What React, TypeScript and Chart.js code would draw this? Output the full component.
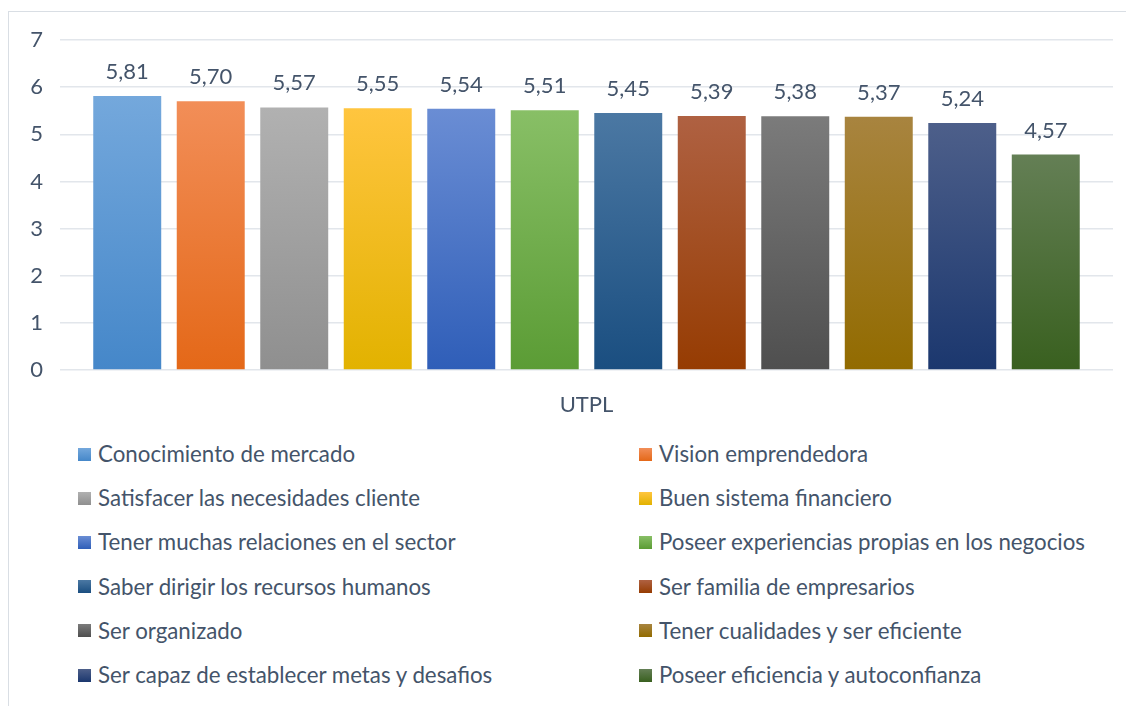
import React, { useEffect, useRef } from 'react';
import { Chart, registerables } from 'chart.js';

Chart.register(...registerables);

const categories = ['UTPL'];
const seriesNames = [
  'Conocimiento de mercado',
  'Vision emprendedora',
  'Satisfacer las necesidades cliente',
  'Buen sistema financiero',
  'Tener muchas relaciones en el sector',
  'Poseer experiencias propias en los negocios',
  'Saber dirigir los recursos humanos',
  'Ser familia de empresarios',
  'Ser organizado',
  'Tener cualidades y ser eficiente',
  'Ser capaz de establecer metas y desafios',
  'Poseer eficiencia y autoconfianza',
];
const seriesValues = [5.81, 5.7, 5.57, 5.55, 5.54, 5.51, 5.45, 5.39, 5.38, 5.37, 5.24, 4.57];
const yTickValues = [0, 1, 2, 3, 4, 5, 6, 7];

const topColors = [
  '#74A8DC', '#F28E58', '#B1B1B1', '#FFC53F', '#6A8DD4', '#88BF66',
  '#4B78A3', '#AF6142', '#7B7B7B', '#A8843F', '#4D5F8A', '#647F55',
];
const bottomColors = [
  '#4587C9', '#E46818', '#8F8F8F', '#E2B200', '#2F5EB8', '#5B9C35',
  '#1A4E80', '#963C02', '#4F4F4F', '#926B00', '#1B376E', '#39601F',
];

const TEXT = '#44546A';
const FONT = 'Lato, "Open Sans", sans-serif';

const fmt = (v: number) => v.toFixed(2).replace('.', ',');

const valueLabels = {
  id: 'valueLabels',
  afterDatasetsDraw(chart: any) {
    const ctx = chart.ctx;
    ctx.save();
    ctx.fillStyle = TEXT;
    ctx.font = `22px ${FONT}`;
    ctx.textAlign = 'center';
    ctx.textBaseline = 'alphabetic';
    chart.data.datasets.forEach((ds: any, i: number) => {
      const meta = chart.getDatasetMeta(i);
      meta.data.forEach((el: any, j: number) => {
        ctx.fillText(fmt(ds.data[j]), el.x, el.y - 17);
      });
    });
    ctx.restore();
  },
};

export default function App() {
  const canvasRef = useRef<HTMLCanvasElement | null>(null);

  useEffect(() => {
    const canvas = canvasRef.current;
    if (!canvas) return;
    const datasets = seriesNames.map((name, i) => ({
      label: name,
      data: [seriesValues[i]],
      backgroundColor: (c: any) => {
        const chart = c.chart;
        const { chartArea, scales } = chart;
        if (!chartArea || c.raw === undefined) return bottomColors[i];
        const yTop = scales.y.getPixelForValue(c.raw);
        const yBot = scales.y.getPixelForValue(0);
        const g = chart.ctx.createLinearGradient(0, yTop, 0, yBot);
        g.addColorStop(0, topColors[i]);
        g.addColorStop(1, bottomColors[i]);
        return g;
      },
      borderWidth: 0,
      categoryPercentage: 0.9516,
      barPercentage: 0.814,
    }));

    const chart = new Chart(canvas, {
      type: 'bar',
      data: { labels: categories, datasets },
      options: {
        animation: false,
        responsive: false,
        layout: { padding: { top: 40, right: 13, left: 0, bottom: 0 } },
        plugins: { legend: { display: false }, tooltip: { enabled: false } },
        scales: {
          x: {
            grid: { display: false, drawTicks: false },
            border: { display: false },
            ticks: { color: TEXT, font: { family: FONT, size: 22 }, padding: 22 },
            afterFit: (s: any) => { s.height = 60; },
          },
          y: {
            min: 0,
            max: 7,
            afterBuildTicks: (s: any) => { s.ticks = yTickValues.map((v) => ({ value: v })); },
            grid: { color: '#E2E6EB', lineWidth: 1.5, drawTicks: false },
            border: { display: false },
            ticks: { color: TEXT, font: { family: FONT, size: 22 }, padding: 17 },
            afterFit: (s: any) => { s.width = 60; },
          },
        },
      },
      plugins: [valueLabels],
    });
    return () => chart.destroy();
  }, []);

  return (
    <div style={{ position: 'fixed', left: 0, top: 0, width: 1126, height: 706, background: '#fff', overflow: 'hidden', fontFamily: FONT }}>
      <div style={{ position: 'absolute', left: 8, top: 11, width: 1130, height: 710, borderLeft: '1.5px solid #D9DEE4', borderTop: '1.5px solid #D9DEE4' }} />
      <canvas ref={canvasRef} width={1126} height={430} style={{ position: 'absolute', left: 0, top: 0, width: 1126, height: 430 }} />
      {seriesNames.map((name, i) => {
        const col = i % 2;
        const row = Math.floor(i / 2);
        return (
          <div key={name} style={{ position: 'absolute', left: col === 0 ? 78 : 639, top: 454 + row * 44.2 - 15, height: 30, display: 'flex', alignItems: 'center', whiteSpace: 'nowrap' }}>
            <span style={{ display: 'inline-block', width: 13, height: 13, marginRight: 7, background: `linear-gradient(${topColors[i]}, ${bottomColors[i]})` }} />
            <span style={{ fontSize: 22.3, color: TEXT, lineHeight: '30px' }}>{name}</span>
          </div>
        );
      })}
    </div>
  );
}
